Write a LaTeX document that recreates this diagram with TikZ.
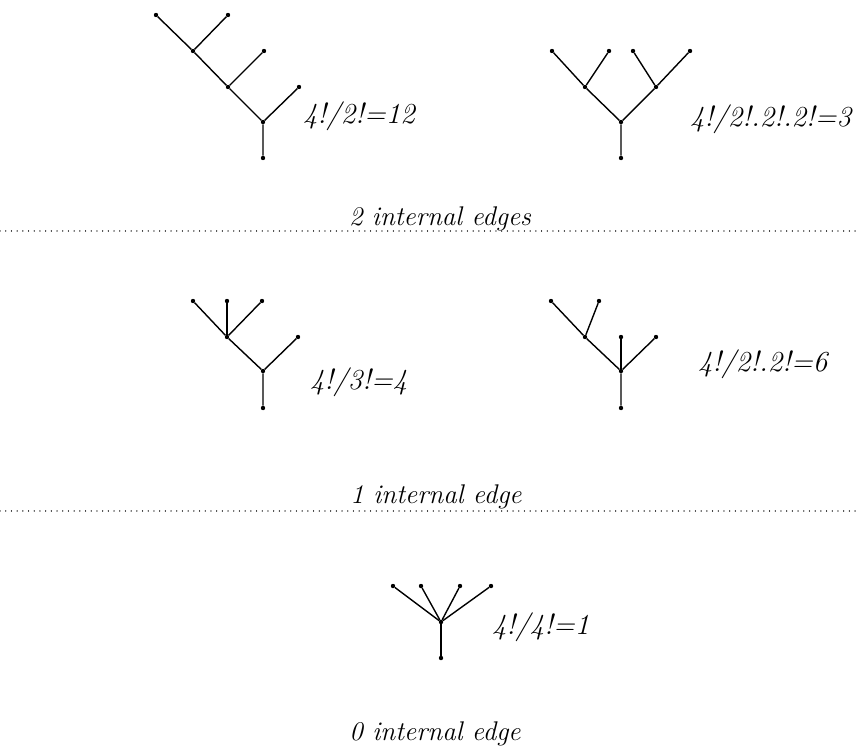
\documentclass[tikz,border=0pt]{standalone}
\usepackage{fontspec}
\begin{document}
\begin{tikzpicture}[x=1pt,y=-1pt,
  dot/.style={circle,fill=black,draw=none,inner sep=0pt,minimum size=4.4pt},
  edge/.style={line width=1.4pt,black},
  dotline/.style={line width=1.2pt,dash pattern=on 0.1pt off 5.6pt,line cap=round,black!80},
  lab/.style={font=\fontsize{29}{34}\selectfont\itshape,anchor=base west,inner sep=0pt},
  capt/.style={font=\fontsize{27}{32}\selectfont\itshape,anchor=base,inner sep=0pt}]
\useasboundingbox (0,0) rectangle (859,750);
% tree 1
\node[dot] (t1l1) at (156,15) {};
\node[dot] (t1l2) at (228,15) {};
\node[dot] (t1n1) at (193,51) {};
\node[dot] (t1l3) at (264,51) {};
\node[dot] (t1n2) at (228,87) {};
\node[dot] (t1l4) at (299,87) {};
\node[dot] (t1r) at (263,122) {};
\node[dot] (t1b) at (263,158) {};
\draw[edge] (t1l1) -- (t1n1) -- (t1n2) -- (t1r) -- (t1b);
\draw[edge] (t1l2) -- (t1n1);
\draw[edge] (t1l3) -- (t1n2);
\draw[edge] (t1l4) -- (t1r);
\node[lab] (lab1) at (303,123) {4!/2!=12};
% tree 2
\node[dot] (t2l1) at (552,51) {};
\node[dot] (t2l2) at (609,51) {};
\node[dot] (t2l3) at (633,51) {};
\node[dot] (t2l4) at (690,51) {};
\node[dot] (t2n1) at (585,87) {};
\node[dot] (t2n2) at (656,87) {};
\node[dot] (t2r) at (621,122) {};
\node[dot] (t2b) at (621,158) {};
\draw[edge] (t2l1) -- (t2n1) -- (t2r) -- (t2b);
\draw[edge] (t2l2) -- (t2n1);
\draw[edge] (t2l3) -- (t2n2) -- (t2r);
\draw[edge] (t2l4) -- (t2n2);
\node[lab] (lab2) at (690,126) {4!/2!.2!.2!=3};
% caption 2
\node[capt] (cap2) at (440,225) {2 internal edges};
\coordinate (d1a) at (0,231);
\coordinate (d1b) at (859,231);
\draw[dotline] (d1a) -- (d1b);
% tree 3
\node[dot] (t3l1) at (193,301) {};
\node[dot] (t3l2) at (227,301) {};
\node[dot] (t3l3) at (262,301) {};
\node[dot] (t3n) at (227,337) {};
\node[dot] (t3l4) at (298,337) {};
\node[dot] (t3r) at (263,371) {};
\node[dot] (t3b) at (263,408) {};
\draw[edge] (t3l1) -- (t3n) -- (t3r) -- (t3b);
\draw[edge] (t3l2) -- (t3n);
\draw[edge] (t3l3) -- (t3n);
\draw[edge] (t3l4) -- (t3r);
\node[lab] (lab3) at (310,389) {4!/3!=4};
% tree 4
\node[dot] (t4l1) at (551,301) {};
\node[dot] (t4l2) at (599,301) {};
\node[dot] (t4n) at (585,337) {};
\node[dot] (t4l3) at (621,337) {};
\node[dot] (t4l4) at (656,337) {};
\node[dot] (t4r) at (621,371) {};
\node[dot] (t4b) at (621,408) {};
\draw[edge] (t4l1) -- (t4n) -- (t4r) -- (t4b);
\draw[edge] (t4l2) -- (t4n);
\draw[edge] (t4l3) -- (t4r);
\draw[edge] (t4l4) -- (t4r);
\node[lab] (lab4) at (698,371) {4!/2!.2!=6};
% caption 1
\node[capt] (cap1) at (436,503) {1 internal edge};
\coordinate (d2a) at (0,511);
\coordinate (d2b) at (859,511);
\draw[dotline] (d2a) -- (d2b);
% tree 5
\node[dot] (t5l1) at (393,586) {};
\node[dot] (t5l2) at (421,586) {};
\node[dot] (t5l3) at (460,586) {};
\node[dot] (t5l4) at (491,586) {};
\node[dot] (t5r) at (441,622) {};
\node[dot] (t5b) at (441,658) {};
\draw[edge] (t5l1) -- (t5r);
\draw[edge] (t5l2) -- (t5r);
\draw[edge] (t5l3) -- (t5r);
\draw[edge] (t5l4) -- (t5r);
\draw[edge] (t5r) -- (t5b);
\node[lab] (lab5) at (492,634) {4!/4!=1};
% caption 0
\node[capt] (cap0) at (435,740) {0 internal edge};
\end{tikzpicture}
\end{document}
